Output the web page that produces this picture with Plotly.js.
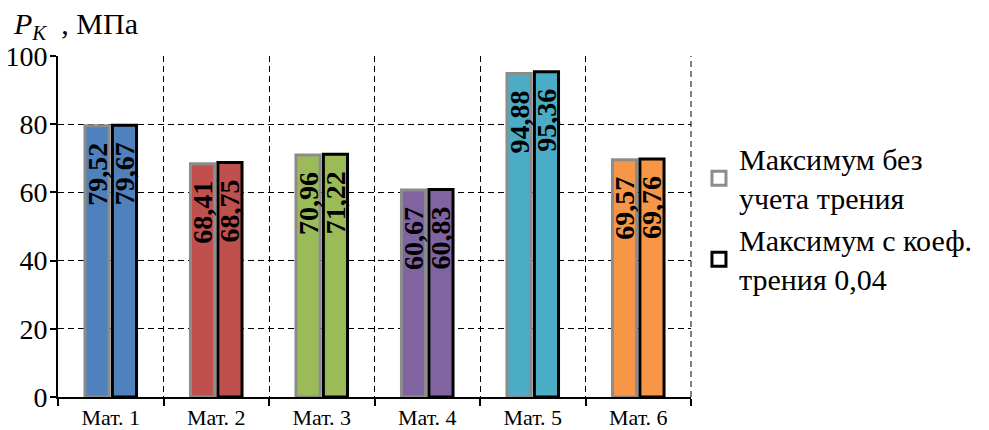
<!DOCTYPE html>
<html>
<head>
<meta charset="utf-8">
<script src="https://cdn.plot.ly/plotly-3.0.1.min.js"></script>
<style>html,body{margin:0;padding:0;background:#fff;}#chart{width:989px;height:430px;}</style>
</head>
<body>
<div id="chart"></div>
<script>
// Contact pressure per material, MPa
const materials = ['Мат. 1', 'Мат. 2', 'Мат. 3', 'Мат. 4', 'Мат. 5', 'Мат. 6'];
const noFriction = [79.52, 68.41, 70.96, 60.67, 94.88, 69.57];
const withFriction = [79.67, 68.75, 71.22, 60.83, 95.36, 69.76];
const seriesNames = ['Максимум без<br>учета трения', 'Максимум с коеф.<br>трения 0,04'];
const yTicks = [0, 20, 40, 60, 80, 100];

const barColors = ['#4f81bd', '#c0504d', '#9bbb59', '#8064a2', '#4bacc6', '#f79646'];
const serif = 'Liberation Serif';

function barTrace(values, lineColor) {
  return {
    type: 'bar',
    x: materials,
    y: values,
    showlegend: false,
    marker: {color: barColors, line: {color: lineColor, width: 3}},
    // trailing no-break spaces keep the number a little below the bar top
    texttemplate: '<b>%{y:.2f}</b>\u00a0\u00a0',
    textposition: 'inside',
    insidetextanchor: 'end',
    textangle: -90,
    constraintext: 'none',
    textfont: {family: serif, size: 28, color: '#000'},
    insidetextfont: {family: serif, size: 28, color: '#000'},
    hoverinfo: 'x+y'
  };
}

// Legend entries: hollow squares outlined like each series
function legendTrace(name, lineColor) {
  return {
    type: 'scatter', mode: 'markers', x: [null], y: [null], name: name,
    marker: {symbol: 'square', size: 14, color: '#fff', line: {color: lineColor, width: 3}}
  };
}

const data = [
  barTrace(noFriction, '#8c8c8c'),
  barTrace(withFriction, '#000'),
  legendTrace(seriesNames[0], '#8c8c8c'),
  legendTrace(seriesNames[1], '#000')
];

const layout = {
  width: 989, height: 430,
  margin: {l: 58, r: 297, t: 56, b: 33},
  paper_bgcolor: '#fff', plot_bgcolor: '#fff',
  separators: ', ',
  barmode: 'group',
  bargap: 0.48,
  bargroupgap: 0.12,
  xaxis: {
    type: 'category',
    tickson: 'boundaries',
    range: [-0.5, 5.5],
    showline: true, linecolor: '#000', linewidth: 2,
    ticks: 'outside', ticklen: 7, tickwidth: 2, tickcolor: '#000',
    showgrid: true, gridcolor: '#000', gridwidth: 1, griddash: '6px,4px',
    tickfont: {family: serif, size: 22, color: '#000'},
    ticklabelstandoff: 0,
    zeroline: false
  },
  yaxis: {
    range: [0, 100],
    tickvals: yTicks,
    showline: true, linecolor: '#000', linewidth: 2,
    ticks: 'outside', ticklen: 6, tickwidth: 2, tickcolor: '#000',
    showgrid: true, gridcolor: '#000', gridwidth: 1, griddash: '6px,4px',
    tickfont: {family: serif, size: 28, color: '#000'},
    ticklabelstandoff: -3,
    zeroline: false
  },
  legend: {
    x: 1.011, xanchor: 'left', y: 0.775, yanchor: 'top',
    font: {family: serif, size: 30, color: '#000'},
    tracegroupgap: 2,
    bgcolor: 'rgba(0,0,0,0)'
  },
  annotations: [{
    xref: 'paper', yref: 'paper', x: -0.075, y: 1.0, xanchor: 'left', yanchor: 'bottom', yshift: 9,
    text: '<i>P</i><sub><i>K</i></sub>  , МПа', showarrow: false,
    font: {family: serif, size: 30, color: '#000'}
  }],
  shapes: [{
    type: 'line', xref: 'paper', yref: 'paper', x0: 1, x1: 1, y0: 0, y1: 1,
    line: {color: '#000', width: 1, dash: '6px,4px'}
  }]
};

Plotly.newPlot('chart', data, layout, {displayModeBar: false, staticPlot: true});
</script>
</body>
</html>
